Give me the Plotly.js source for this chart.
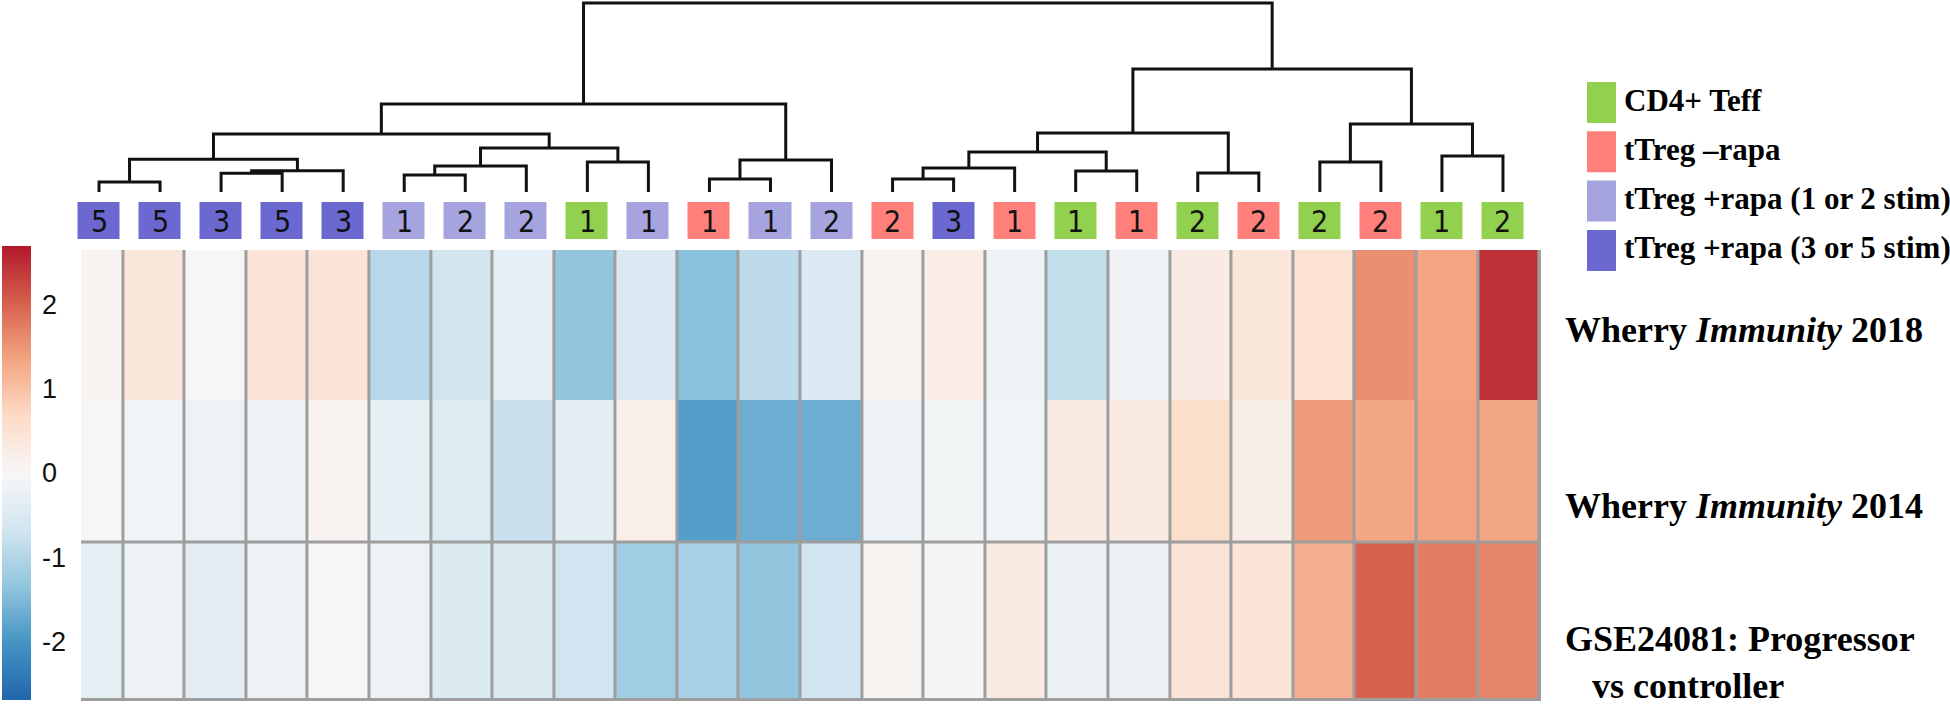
<!DOCTYPE html>
<html><head><meta charset="utf-8">
<script src="https://cdn.plot.ly/plotly-3.0.1.min.js"></script>
<style>html,body{margin:0;padding:0;background:#fff}#chart{width:1950px;height:710px}</style>
</head><body><div id="chart"></div>
<script>
// ---------- data ----------
const stimLabels = ['5','5','3','5','3','1','2','2','1','1','1','1','2','2','3','1','1','1','2','2','2','2','1','2'];
const groupIndex = [3,3,3,3,3,2,2,2,0,2,1,2,2,1,3,1,0,1,0,1,0,1,0,0];
const groupNames = ['CD4+ Teff','tTreg \u2013rapa','tTreg +rapa (1 or 2 stim)','tTreg +rapa (3 or 5 stim)'];
const groupColors = ['#92d14f','#ff7f7b','#a5a4df','#6b69cf'];
const rowNames = ['Wherry <i>Immunity</i> 2018','Wherry <i>Immunity</i> 2014','GSE24081: Progressor<br>\u00a0\u00a0\u00a0vs controller'];
const wherry2018 = [0.10,0.40,0.02,0.45,0.45,-0.94,-0.65,-0.32,-1.35,-0.50,-1.41,-0.89,-0.50,0.10,0.25,-0.16,-0.81,-0.15,0.28,0.40,0.50,1.57,1.35,2.46];
const wherry2014 = [-0.02,-0.10,-0.17,-0.17,0.10,-0.30,-0.45,-0.76,-0.35,0.20,-1.87,-1.67,-1.67,-0.20,-0.08,-0.12,0.30,0.30,0.60,0.22,1.46,1.33,1.37,1.32];
const gse24081 = [-0.30,-0.20,-0.36,-0.20,-0.02,-0.18,-0.48,-0.48,-0.67,-1.19,-1.11,-1.35,-0.68,0.08,-0.06,0.30,-0.22,-0.22,0.45,0.45,1.24,2.00,1.75,1.67];
const colorTicks = [-2,-1,0,1,2];
const colorTickText = ['-2','-1','0','1','2'];
// dendrogram linkage: [left node, right node, merge height]; leaves are 0..23, merges numbered from 24
const linkage = [
  [0,1,10],[2,3,18.7],[25,4,21.3],[24,26,32.7],
  [5,6,17],[28,7,26],[8,9,30],[29,30,44],[27,31,58],
  [10,11,13],[33,12,32],[32,34,88],
  [13,14,13],[36,15,24],[16,17,21],[37,38,40],[18,19,19],[39,40,59],
  [20,21,30],[22,23,36],[42,43,68],[41,44,123],[35,45,189]
];

// ---------- helpers ----------
const W = 1950, H = 710;
const px = v => v / W;
const py = v => 1 - v / H;
const cols = stimLabels.map((_, i) => i);

// row band edges of the heat map, in pixels below its top edge (rows are not all the same height)
const rowBandEdges = [0, 150, 292, 448];
const gridBottom = 451;

// dendrogram segments from the linkage
const nodeX = cols.slice(), nodeH = cols.map(() => 0);
const dx = [], dy = [];
linkage.forEach(([a, b, h]) => {
  dx.push(nodeX[a], nodeX[a], nodeX[b], nodeX[b], null);
  dy.push(nodeH[a], h, h, nodeH[b], null);
  nodeX.push((nodeX[a] + nodeX[b]) / 2);
  nodeH.push(h);
});

const rdbu = [[0,'#2166ac'],[0.125,'#4393c3'],[0.25,'#92c5de'],[0.375,'#d1e5f0'],[0.5,'#f7f7f7'],
              [0.625,'#fddbc7'],[0.75,'#f4a582'],[0.875,'#d6604d'],[1,'#b2182b']];
const groupScale = groupColors.map((c, i) => [i / (groupColors.length - 1), c]);

const traces = [
  {
    type: 'heatmap', z: [wherry2018, wherry2014, gse24081], x: cols, y: rowBandEdges,
    xaxis: 'x', yaxis: 'y', colorscale: rdbu, zmin: -2.7, zmax: 2.7, xgap: 3, ygap: 0,
    hoverinfo: 'skip',
    colorbar: {
      x: px(2), xanchor: 'left', y: py(246), yanchor: 'top',
      len: 454, lenmode: 'pixels', thickness: 29, thicknessmode: 'pixels',
      outlinewidth: 0, xpad: 0, ypad: 0, tickvals: colorTicks, ticktext: colorTickText,
      ticks: 'outside', ticklen: 6, tickcolor: 'rgba(0,0,0,0)',
      tickfont: {family: 'Liberation Sans, Arial, sans-serif', size: 27, color: '#111'}
    }
  },
  {
    type: 'heatmap', z: [groupIndex], x: cols, y: [0], text: [stimLabels],
    texttemplate: '%{text}',
    textfont: {family: 'Liberation Sans Narrow, Arial Narrow, DejaVu Sans Condensed, sans-serif', size: 30, color: '#111'},
    xaxis: 'x2', yaxis: 'y2', colorscale: groupScale, zmin: 0, zmax: groupColors.length - 1,
    showscale: false, xgap: 19, hoverinfo: 'skip'
  },
  {
    type: 'scatter', mode: 'lines', x: dx, y: dy, xaxis: 'x2', yaxis: 'y3',
    line: {color: '#111', width: 3}, hoverinfo: 'skip', showlegend: false, connectgaps: false
  }
];

const hidden = {visible: false, showgrid: false, zeroline: false, fixedrange: true};
const annotations = [];
const shapes = [
  {type: 'rect', xref: 'x domain', yref: 'y domain', x0: 0, x1: 1, y0: 0, y1: 1,
   fillcolor: '#9e9e9e', line: {width: 0}, layer: 'below'},
  {type: 'line', xref: 'x domain', yref: 'y', x0: 0, x1: 1, y0: rowBandEdges[2], y1: rowBandEdges[2],
   line: {color: '#9e9e9e', width: 3}}
];
// legend boxes and texts
groupNames.forEach((name, i) => {
  const top = 82 + i * 49.3;
  shapes.push({type: 'rect', xref: 'paper', yref: 'paper', x0: px(1587), x1: px(1616),
    y0: py(top + 41), y1: py(top), fillcolor: groupColors[i], line: {width: 0}});
  annotations.push({xref: 'paper', yref: 'paper', x: px(1622), y: py(top + 18), xanchor: 'left', yanchor: 'middle',
    text: '<b>' + name + '</b>', showarrow: false,
    font: {family: 'Liberation Serif, Times New Roman, serif', size: 31, color: '#000'}});
});
// row labels on the right
const rowLabelPos = [[1563, 330], [1563, 506], [1563, 662]];
rowNames.forEach((name, i) => {
  annotations.push({xref: 'paper', yref: 'paper', x: px(rowLabelPos[i][0]), y: py(rowLabelPos[i][1]),
    xanchor: 'left', yanchor: 'middle', align: 'left',
    text: '<b>' + name.replace('<br>', '</b><br><b>') + '</b>', showarrow: false,
    font: {family: 'Liberation Serif, Times New Roman, serif', size: 36, color: '#000'}});
});

const layout = {
  width: W, height: H, margin: {l: 0, r: 0, t: 0, b: 0, pad: 0},
  paper_bgcolor: '#fff', plot_bgcolor: 'rgba(0,0,0,0)', showlegend: false,
  xaxis: Object.assign({}, hidden, {domain: [px(81), px(1541)], range: [-0.182, 23.524], anchor: 'y'}),
  yaxis: Object.assign({}, hidden, {domain: [py(250 + gridBottom), py(250)], range: [gridBottom, 0], anchor: 'x'}),
  xaxis2: Object.assign({}, hidden, {domain: [px(68.5), px(1533.5)], range: [-0.5, 23.5], anchor: 'y2'}),
  yaxis2: Object.assign({}, hidden, {domain: [py(239), py(202)], range: [-0.5, 0.5], anchor: 'x2'}),
  yaxis3: Object.assign({}, hidden, {domain: [py(192), 1], range: [0, 192], anchor: 'x2'}),
  shapes: shapes, annotations: annotations
};

Plotly.newPlot('chart', traces, layout, {displayModeBar: false, staticPlot: true});
</script></body></html>
